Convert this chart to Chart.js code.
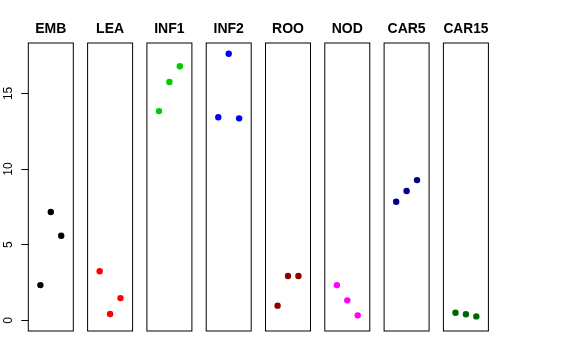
<!DOCTYPE html>
<html>
<head>
<meta charset="utf-8">
<script src="https://cdn.jsdelivr.net/npm/chart.js@4/dist/chart.umd.min.js"></script>
<style>
    html, body { margin: 0; padding: 0; background: #fff; }
    #wrap { position: relative; width: 576px; height: 360px; }
    #wrap canvas { position: absolute; left: 0; top: 0; }
</style>
</head>
<body>
<div id="wrap"></div>
<script>
// Panel names and the replicate index used on the x axis
const panels = ['EMB', 'LEA', 'INF1', 'INF2', 'ROO', 'NOD', 'CAR5', 'CAR15'];
const replicate = [1, 2, 3];

// Values, one array per panel
const EMB = [2.33, 7.16, 5.59];
const LEA = [3.24, 0.42, 1.47];
const INF1 = [13.83, 15.75, 16.79];
const INF2 = [13.42, 17.62, 13.35];
const ROO = [0.97, 2.93, 2.93];
const NOD = [2.33, 1.32, 0.33];
const CAR5 = [7.84, 8.55, 9.27];
const CAR15 = [0.50, 0.40, 0.26];
const panelValues = [EMB, LEA, INF1, INF2, ROO, NOD, CAR5, CAR15];

const panelColors = ['#000000', '#ff0000', '#00cd00', '#0000ff', '#8b0000', '#ff00ff', '#00008b', '#006400'];
const yTicks = [0, 5, 10, 15];

// Axis limits (R style, 4% extension)
const yMin = -0.705, yMax = 18.33;
const xMin = -0.16, xMax = 4.16;

// Panel geometry
const W = 576, H = 360;
const firstLeft = 28.3, step = 59.3, panelWidth = 45;
const plotTop = 43, plotBottom = 331;

// Draws the box around each panel
const boxPlugin = {
    id: 'panelBox',
    afterDraw(chart) {
        const a = chart.chartArea;
        const ctx = chart.ctx;
        ctx.save();
        ctx.strokeStyle = '#000';
        ctx.lineWidth = 1;
        ctx.strokeRect(a.left, a.top, a.right - a.left, a.bottom - a.top);
        ctx.restore();
    }
};

const wrap = document.getElementById('wrap');

panels.forEach((name, i) => {
    const canvas = document.createElement('canvas');
    canvas.width = W;
    canvas.height = H;
    wrap.appendChild(canvas);

    const left = firstLeft + step * i;
    const withAxis = i === 0;

    const yScale = {
        type: 'linear',
        min: yMin,
        max: yMax,
        display: withAxis,
        position: 'left'
    };
    if (withAxis) {
        Object.assign(yScale, {
            afterFit: s => { s.width = firstLeft; },
            afterBuildTicks: s => { s.ticks = yTicks.map(v => ({ value: v })); },
            border: { display: false },
            grid: {
                drawOnChartArea: false,
                tickLength: 7,
                color: '#000'
            },
            ticks: {
                minRotation: 90,
                maxRotation: 90,
                crossAlign: 'center',
                padding: 6,
                color: '#000',
                font: { family: 'Liberation Sans, Arial, sans-serif', size: 12 }
            }
        });
    }

    new Chart(canvas.getContext('2d'), {
        type: 'scatter',
        data: {
            datasets: [{
                data: replicate.map((x, k) => ({ x: x, y: panelValues[i][k] })),
                backgroundColor: panelColors[i],
                borderWidth: 0,
                pointRadius: 3.2,
                pointHoverRadius: 3.2
            }]
        },
        options: {
            responsive: false,
            animation: false,
            events: [],
            layout: {
                padding: {
                    left: withAxis ? 0 : left,
                    right: W - left - panelWidth,
                    top: 21.1,
                    bottom: H - plotBottom
                }
            },
            scales: {
                x: {
                    type: 'linear',
                    min: xMin,
                    max: xMax,
                    display: false
                },
                y: yScale
            },
            plugins: {
                legend: { display: false },
                tooltip: { enabled: false },
                title: {
                    display: true,
                    text: name,
                    fullSize: false,
                    color: '#000',
                    font: { family: 'Liberation Sans, Arial, sans-serif', size: 14, weight: 'bold', lineHeight: 1.2 },
                    padding: { top: 0, bottom: 43 - 21.1 - 16.8 }
                }
            }
        },
        plugins: [boxPlugin]
    });
});
</script>
</body>
</html>
